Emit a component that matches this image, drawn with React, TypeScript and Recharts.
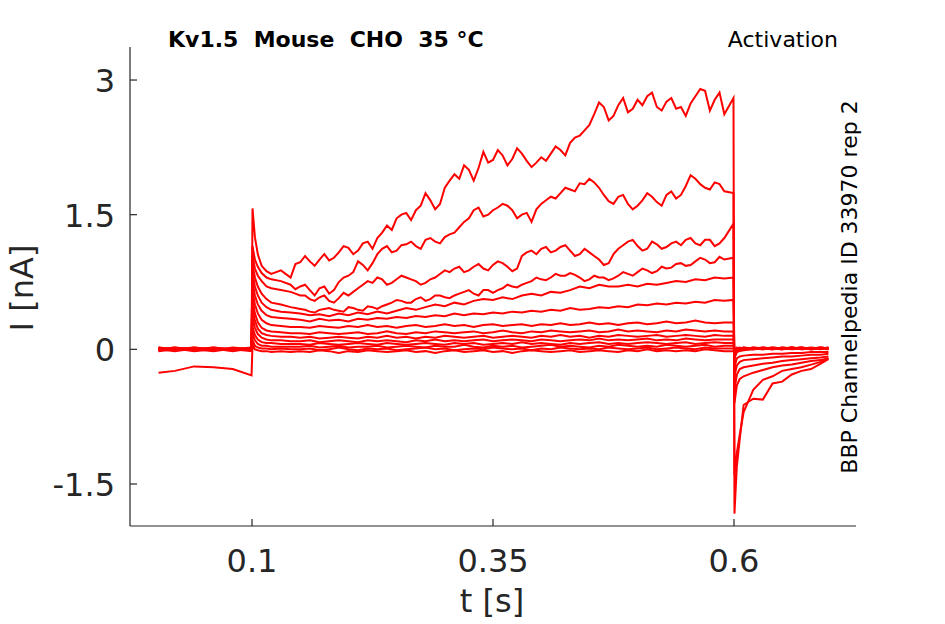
import { LineChart, Line, XAxis, YAxis } from 'recharts';

// sample times (s): holding, capacitive spike, step, tail
const TIMES = [
  0.003, 0.02, 0.04, 0.06, 0.08, 0.0995,
  0.1005, 0.103, 0.106, 0.11, 0.115, 0.12, 0.13, 0.14,
  0.15, 0.16, 0.17, 0.18, 0.19, 0.2, 0.21, 0.22, 0.23, 0.24,
  0.25, 0.26, 0.27, 0.28, 0.29, 0.3, 0.31, 0.32, 0.33, 0.34,
  0.35, 0.36, 0.37, 0.38, 0.39, 0.4, 0.41, 0.42, 0.43, 0.44,
  0.45, 0.46, 0.47, 0.48, 0.49, 0.5, 0.51, 0.52, 0.53, 0.54,
  0.55, 0.56, 0.57, 0.58, 0.59,
  0.5995,
  0.6005, 0.603, 0.606, 0.61, 0.62, 0.63, 0.64, 0.65, 0.66, 0.67, 0.68, 0.69, 0.698,
];

// extra in-between samples for the noisier large traces
const MID_TIMES = [
  0.145, 0.155, 0.165, 0.175, 0.185, 0.195, 0.205, 0.215, 0.225, 0.235,
  0.245, 0.255, 0.265, 0.275, 0.285, 0.295, 0.305, 0.315, 0.325, 0.335,
  0.345, 0.355, 0.365, 0.375, 0.385, 0.395, 0.405, 0.415, 0.425, 0.435,
  0.445, 0.455, 0.465, 0.475, 0.485, 0.495, 0.505, 0.515, 0.525, 0.535,
  0.545, 0.555, 0.565, 0.575, 0.585,
];

// current traces (nA), one per voltage step
const TRACE_1 = [
  0.01, -0.01, 0.02, 0.0, -0.01, 0.01,
  1.57, 1.25, 1.06, 0.93, 0.87, 0.84, 0.88, 0.8,
  0.97, 0.98, 1.0, 0.99, 1.08, 1.13, 1.1, 1.2, 1.24, 1.38,
  1.46, 1.52, 1.55, 1.74, 1.56, 1.8, 1.95, 2.05, 1.88, 2.2,
  2.11, 2.16, 2.12, 2.18, 2.03, 2.14, 2.18, 2.22, 2.3, 2.38,
  2.5, 2.75, 2.55, 2.72, 2.64, 2.78, 2.82, 2.7, 2.76, 2.68,
  2.6, 2.82, 2.88, 2.78, 2.62,
  2.8,
  -1.83, -1.3, -1.0, -0.62, -0.55, -0.56, -0.38, -0.36, -0.28, -0.24, -0.22, -0.16, -0.11,
];
const MID_1 = [
  0.95, 1.04, 0.93, 1.06, 1.02, 1.15, 1.06, 1.18, 1.12, 1.3,
  1.33, 1.5, 1.44, 1.6, 1.66, 1.62, 1.88, 1.9, 2.0, 2.02,
  2.08, 2.22, 2.05, 2.24, 2.1, 2.08, 2.1, 2.26, 2.16, 2.36,
  2.44, 2.62, 2.7, 2.6, 2.8, 2.68, 2.72, 2.86, 2.66, 2.8,
  2.7, 2.74, 2.9, 2.66, 2.86,
];
const TRACE_2 = [
  -0.01, 0.01, 0.0, 0.02, -0.01, 0.0,
  1.15, 1.0, 0.92, 0.85, 0.8, 0.78, 0.76, 0.72,
  0.7, 0.66, 0.68, 0.62, 0.75, 0.82, 0.98, 0.88, 1.06, 1.15,
  1.1, 1.17, 1.15, 1.22, 1.2, 1.25, 1.3, 1.42, 1.55, 1.48,
  1.55, 1.62, 1.55, 1.5, 1.42, 1.62, 1.7, 1.74, 1.78, 1.85,
  1.9, 1.8, 1.65, 1.7, 1.62, 1.6, 1.74, 1.64, 1.72, 1.68,
  1.82, 1.9, 1.8, 1.86, 1.76,
  1.74,
  -1.4, -1.15, -0.95, -0.7, -0.45, -0.34, -0.3, -0.24, -0.22, -0.2, -0.17, -0.14, -0.1,
];
const MID_2 = [
  0.67, 0.72, 0.6, 0.7, 0.66, 0.8, 0.86, 0.94, 0.96, 1.12,
  1.08, 1.16, 1.2, 1.12, 1.24, 1.18, 1.28, 1.36, 1.46, 1.58,
  1.5, 1.58, 1.6, 1.46, 1.52, 1.56, 1.66, 1.68, 1.8, 1.76,
  1.84, 1.86, 1.72, 1.62, 1.72, 1.56, 1.66, 1.7, 1.6, 1.76,
  1.72, 1.94, 1.84, 1.78, 1.84,
];
const TRACE_3 = [
  0.0, -0.02, 0.01, -0.01, 0.01, -0.01,
  1.05, 0.9, 0.82, 0.76, 0.7, 0.68, 0.66, 0.64,
  0.6, 0.56, 0.58, 0.54, 0.57, 0.6, 0.68, 0.76, 0.8, 0.72,
  0.78, 0.8, 0.76, 0.74, 0.8, 0.88, 0.9, 0.86, 0.92, 0.9,
  0.94, 0.96, 0.87, 1.04, 1.1, 1.12, 1.08, 1.14, 1.1, 1.06,
  1.08, 1.0, 0.96, 1.12, 1.2, 1.15, 1.12, 1.17, 1.14, 1.2,
  1.22, 1.18, 1.22, 1.15, 1.24,
  1.4,
  -0.6, -0.4, -0.33, -0.3, -0.26, -0.23, -0.2, -0.18, -0.17, -0.15, -0.13, -0.12, -0.1,
];
const MID_3 = [
  0.62, 0.6, 0.54, 0.6, 0.52, 0.63, 0.64, 0.72, 0.74, 0.78,
  0.74, 0.82, 0.78, 0.72, 0.78, 0.84, 0.86, 0.92, 0.88, 0.95,
  0.88, 0.98, 0.92, 0.9, 1.08, 1.06, 1.14, 1.1, 1.16, 1.04,
  1.12, 1.04, 0.94, 1.06, 1.16, 1.22, 1.1, 1.2, 1.12, 1.18,
  1.16, 1.24, 1.16, 1.22, 1.18,
];
const TRACE_4 = [
  0.02, 0.0, -0.01, 0.01, 0.0, 0.02,
  0.95, 0.8, 0.7, 0.62, 0.56, 0.52, 0.5, 0.47,
  0.45, 0.42, 0.44, 0.46, 0.43, 0.47, 0.44, 0.48, 0.45, 0.5,
  0.55, 0.52, 0.56, 0.54, 0.6, 0.58, 0.6, 0.64, 0.62, 0.66,
  0.63, 0.68, 0.7, 0.72, 0.76, 0.78, 0.8, 0.82, 0.85, 0.8,
  0.78, 0.8, 0.77, 0.82, 0.84, 0.86, 0.88, 0.87, 0.9, 0.95,
  0.93, 0.98, 1.0, 0.97, 1.0,
  1.02,
  -0.45, -0.28, -0.22, -0.2, -0.18, -0.16, -0.15, -0.13, -0.12, -0.11, -0.1, -0.09, -0.08,
];
const MID_4 = [
  0.46, 0.44, 0.41, 0.45, 0.44, 0.42, 0.46, 0.43, 0.47, 0.48,
  0.52, 0.54, 0.52, 0.58, 0.56, 0.6, 0.57, 0.62, 0.66, 0.6,
  0.66, 0.66, 0.72, 0.69, 0.74, 0.8, 0.77, 0.84, 0.82, 0.83,
  0.76, 0.82, 0.8, 0.79, 0.86, 0.82, 0.9, 0.85, 0.92, 0.91,
  0.96, 0.94, 1.02, 0.96, 1.03,
];
const TRACE_5 = [
  -0.01, 0.01, -0.02, 0.0, 0.01, -0.01,
  0.85, 0.7, 0.6, 0.52, 0.47, 0.44, 0.42, 0.41,
  0.4, 0.38, 0.39, 0.37, 0.4, 0.38, 0.41, 0.39, 0.42, 0.4,
  0.43, 0.46, 0.44, 0.47, 0.5, 0.48, 0.52, 0.5, 0.54, 0.56,
  0.55, 0.58, 0.56, 0.6, 0.62, 0.6, 0.64, 0.63, 0.66, 0.7,
  0.68, 0.72, 0.7, 0.7, 0.72, 0.7, 0.73, 0.72, 0.74, 0.76,
  0.75, 0.78, 0.77, 0.8, 0.79,
  0.8,
  -0.3, -0.18, -0.14, -0.12, -0.11, -0.1, -0.09, -0.08, -0.08, -0.07, -0.06, -0.06, -0.05,
];
const TRACE_6 = [
  0.0, 0.02, 0.0, -0.02, 0.01, 0.0,
  0.75, 0.6, 0.5, 0.43, 0.38, 0.36, 0.35, 0.34,
  0.33, 0.31, 0.34, 0.32, 0.33, 0.31, 0.34, 0.33, 0.35, 0.34,
  0.36, 0.35, 0.37, 0.36, 0.38, 0.37, 0.4, 0.38, 0.4, 0.39,
  0.41, 0.4, 0.42, 0.41, 0.43, 0.42, 0.44, 0.43, 0.46, 0.44,
  0.45, 0.47, 0.46, 0.48, 0.47, 0.5, 0.49, 0.51, 0.5, 0.52,
  0.51, 0.53, 0.52, 0.55, 0.54,
  0.55,
  -0.2, -0.1, -0.08, -0.07, -0.06, -0.06, -0.05, -0.05, -0.04, -0.04, -0.03, -0.03, -0.03,
];
const TRACE_7 = [
  0.01, -0.01, 0.0, 0.01, -0.02, 0.01,
  0.65, 0.5, 0.4, 0.33, 0.29, 0.27, 0.26, 0.25,
  0.25, 0.24, 0.26, 0.25, 0.24, 0.26, 0.25, 0.27, 0.25, 0.26,
  0.24, 0.26, 0.27, 0.25, 0.26, 0.28, 0.26, 0.27, 0.25, 0.27,
  0.28, 0.26, 0.27, 0.28, 0.26, 0.28, 0.27, 0.29, 0.27, 0.28,
  0.3, 0.28, 0.29, 0.27, 0.29, 0.3, 0.28, 0.29, 0.31, 0.29,
  0.3, 0.32, 0.3, 0.29, 0.3,
  0.3,
  -0.1, -0.03, -0.02, -0.01, 0.0, 0.01, 0.0, 0.01, 0.0, 0.01, 0.0, 0.01, 0.0,
];
const TRACE_8 = [
  -0.02, 0.0, 0.01, -0.01, 0.0, -0.01,
  0.55, 0.4, 0.3, 0.24, 0.21, 0.2, 0.19, 0.18,
  0.18, 0.17, 0.19, 0.18, 0.17, 0.18, 0.19, 0.17, 0.18, 0.2,
  0.18, 0.17, 0.19, 0.18, 0.2, 0.19, 0.18, 0.19, 0.2, 0.18,
  0.19, 0.21, 0.19, 0.18, 0.2, 0.19, 0.21, 0.2, 0.19, 0.2,
  0.21, 0.19, 0.2, 0.22, 0.2, 0.21, 0.2, 0.19, 0.21, 0.2,
  0.22, 0.21, 0.2, 0.21, 0.2,
  0.2,
  -0.08, -0.02, -0.01, 0.0, 0.01, 0.0, 0.01, 0.0, 0.01, 0.02, 0.0, 0.01, 0.01,
];
const TRACE_9 = [
  0.01, 0.0, -0.01, 0.02, 0.0, 0.01,
  0.45, 0.32, 0.23, 0.18, 0.16, 0.15, 0.14, 0.14,
  0.13, 0.14, 0.12, 0.13, 0.14, 0.13, 0.12, 0.14, 0.13, 0.15,
  0.13, 0.14, 0.12, 0.14, 0.13, 0.15, 0.14, 0.13, 0.14, 0.15,
  0.13, 0.14, 0.15, 0.14, 0.13, 0.15, 0.14, 0.16, 0.14, 0.15,
  0.13, 0.15, 0.14, 0.16, 0.15, 0.14, 0.15, 0.16, 0.14, 0.15,
  0.16, 0.15, 0.14, 0.16, 0.15,
  0.15,
  -0.06, -0.01, 0.0, 0.01, 0.0, 0.02, 0.01, 0.0, 0.02, 0.01, 0.0, 0.02, 0.01,
];
const TRACE_10 = [
  -0.01, 0.01, 0.0, -0.01, 0.02, 0.0,
  0.35, 0.24, 0.17, 0.13, 0.11, 0.1, 0.1, 0.09,
  0.09, 0.1, 0.08, 0.09, 0.1, 0.09, 0.08, 0.1, 0.09, 0.1,
  0.09, 0.08, 0.1, 0.09, 0.11, 0.09, 0.1, 0.09, 0.1, 0.11,
  0.09, 0.1, 0.11, 0.1, 0.09, 0.11, 0.1, 0.09, 0.1, 0.11,
  0.1, 0.12, 0.1, 0.11, 0.1, 0.11, 0.12, 0.1, 0.11, 0.1,
  0.12, 0.11, 0.1, 0.11, 0.11,
  0.11,
  -0.05, 0.0, 0.01, 0.0, 0.02, 0.01, 0.0, 0.02, 0.01, 0.02, 0.01, 0.0, 0.02,
];
const TRACE_11 = [
  0.02, -0.01, 0.01, 0.0, -0.01, 0.01,
  0.25, 0.16, 0.11, 0.08, 0.07, 0.07, 0.06, 0.06,
  0.06, 0.05, 0.07, 0.06, 0.05, 0.06, 0.07, 0.06, 0.05, 0.07,
  0.06, 0.05, 0.06, 0.07, 0.06, 0.05, 0.07, 0.06, 0.07, 0.05,
  0.06, 0.07, 0.06, 0.08, 0.06, 0.07, 0.06, 0.05, 0.07, 0.06,
  0.07, 0.08, 0.06, 0.07, 0.06, 0.07, 0.08, 0.07, 0.06, 0.07,
  0.08, 0.06, 0.07, 0.08, 0.07,
  0.07,
  -0.04, 0.01, 0.0, 0.02, 0.01, 0.0, 0.02, 0.01, 0.02, 0.0, 0.01, 0.02, 0.01,
];
const TRACE_12 = [
  -0.01, 0.0, 0.02, -0.01, 0.0, -0.02,
  0.18, 0.1, 0.06, 0.04, 0.04, 0.03, 0.03, 0.03,
  0.03, 0.04, 0.02, 0.03, 0.04, 0.02, 0.03, 0.03, 0.04, 0.02,
  0.03, 0.04, 0.03, 0.02, 0.04, 0.03, 0.03, 0.05, 0.03, 0.02,
  0.04, 0.03, 0.04, 0.02, 0.03, 0.04, 0.05, 0.03, 0.04, 0.03,
  0.02, 0.04, 0.03, 0.05, 0.04, 0.03, 0.04, 0.03, 0.05, 0.04,
  0.03, 0.04, 0.05, 0.03, 0.04,
  0.04,
  -0.03, 0.01, 0.02, 0.0, 0.01, 0.02, 0.01, 0.0, 0.02, 0.01, 0.02, 0.01, 0.0,
];
const TRACE_13 = [
  0.0, 0.02, -0.01, 0.01, -0.01, 0.0,
  0.1, 0.04, 0.02, 0.01, 0.01, 0.0, 0.01, 0.0,
  0.0, 0.01, -0.01, 0.0, 0.02, 0.0, -0.01, 0.01, 0.0, 0.01,
  -0.01, 0.0, 0.01, 0.02, 0.0, 0.01, -0.01, 0.0, 0.01, 0.0,
  0.02, 0.01, 0.0, 0.01, -0.01, 0.01, 0.0, 0.02, 0.01, 0.0,
  0.01, 0.0, 0.02, 0.01, 0.0, 0.01, 0.02, 0.0, 0.01, 0.02,
  0.01, 0.0, 0.02, 0.01, 0.01,
  0.01,
  -0.02, 0.0, 0.01, 0.02, 0.0, 0.01, 0.02, 0.01, 0.02, 0.0, 0.01, 0.02, 0.01,
];
const TRACE_14 = [
  -0.26, -0.24, -0.19, -0.2, -0.22, -0.29,
  0.05, 0.0, -0.01, -0.02, -0.02, -0.03, -0.02, -0.03,
  -0.02, -0.03, -0.01, -0.02, -0.04, -0.02, -0.03, -0.01, -0.02, -0.03,
  -0.02, -0.01, -0.03, -0.02, -0.04, -0.02, -0.01, -0.03, -0.02, -0.01,
  -0.03, -0.02, -0.04, -0.02, -0.01, -0.02, -0.03, -0.02, -0.01, -0.03,
  -0.02, -0.01, -0.02, -0.03, -0.01, -0.02, 0.0, -0.02, -0.01, -0.02,
  -0.01, -0.02, 0.0, -0.01, -0.02,
  -0.02,
  0.0, 0.02, 0.01, 0.0, 0.02, 0.01, 0.0, 0.02, 0.01, 0.02, 0.0, 0.01, 0.02,
];

// [main samples, in-between samples]
const TRACES: [number[], number[]][] = [
  [TRACE_14, []], [TRACE_13, []], [TRACE_12, []], [TRACE_11, []], [TRACE_10, []],
  [TRACE_9, []], [TRACE_8, []], [TRACE_7, []], [TRACE_6, []], [TRACE_5, []],
  [TRACE_4, MID_4], [TRACE_3, MID_3], [TRACE_2, MID_2], [TRACE_1, MID_1],
];

const X_TICKS = [0.1, 0.35, 0.6];
const Y_TICKS = [-1.5, 0, 1.5, 3];

const INK = '#262626';
const FONT = '"DejaVu Sans", sans-serif';

function buildSeries(main: number[], mid: number[]) {
  const pts = TIMES.map((t, i) => ({ t, v: main[i] }));
  mid.forEach((v, i) => pts.push({ t: MID_TIMES[i], v }));
  return pts.sort((a, b) => a.t - b.t);
}

function XTick({ x, y, payload }: any) {
  return (
    <g>
      <line x1={x} x2={x} y1={y} y2={y - 7} stroke={INK} strokeWidth={1.2} />
      <text x={x} y={y + 46} textAnchor="middle" fill={INK} fontSize={32} fontFamily={FONT}>
        {payload.value}
      </text>
    </g>
  );
}

function YTick({ x, y, payload }: any) {
  return (
    <g>
      <line x1={x} x2={x + 7} y1={y} y2={y} stroke={INK} strokeWidth={1.2} />
      <text x={x - 15} y={y + 12} textAnchor="end" fill={INK} fontSize={32} fontFamily={FONT}>
        {payload.value}
      </text>
    </g>
  );
}

export default function App() {
  return (
    <div style={{ position: 'absolute', left: 0, top: 0, width: 945, height: 624, background: '#fff' }}>
      <LineChart width={945} height={624} margin={{ top: 47, right: 89, bottom: 58, left: 70 }}>
        <XAxis
          type="number"
          dataKey="t"
          domain={[-0.0266, 0.7266]}
          ticks={X_TICKS}
          allowDataOverflow
          height={40}
          tickSize={0}
          tickMargin={0}
          tickLine={false}
          axisLine={{ stroke: INK, strokeWidth: 1.2 }}
          tick={<XTick />}
        />
        <YAxis
          type="number"
          dataKey="v"
          domain={[-1.968, 3.368]}
          ticks={Y_TICKS}
          allowDataOverflow
          width={60}
          tickSize={0}
          tickMargin={0}
          tickLine={false}
          axisLine={{ stroke: INK, strokeWidth: 1.2 }}
          tick={<YTick />}
        />
        {TRACES.map(([main, mid], k) => (
          <Line
            key={k}
            data={buildSeries(main, mid)}
            dataKey="v"
            type="linear"
            stroke="#ff0000"
            strokeWidth={2}
            dot={false}
            isAnimationActive={false}
          />
        ))}
        <text x={168} y={47} fontSize={22} fontWeight="bold" fontFamily={FONT} fill="#000" style={{ whiteSpace: 'pre' }}>
          {'Kv1.5  Mouse  CHO  35 °C'}
        </text>
        <text x={838} y={47} textAnchor="end" fontSize={22} fontFamily={FONT} fill="#000">
          Activation
        </text>
        <text
          x={857}
          y={287}
          transform="rotate(-90 857 287)"
          textAnchor="middle"
          fontSize={22}
          fontFamily={FONT}
          fill="#000"
        >
          BBP Channelpedia ID 33970 rep 2
        </text>
        <text
          x={33}
          y={288}
          transform="rotate(-90 33 288)"
          textAnchor="middle"
          fontSize={32}
          fontFamily={FONT}
          fill={INK}
        >
          I [nA]
        </text>
        <text x={492} y={612} textAnchor="middle" fontSize={32} fontFamily={FONT} fill={INK}>
          t [s]
        </text>
      </LineChart>
    </div>
  );
}
